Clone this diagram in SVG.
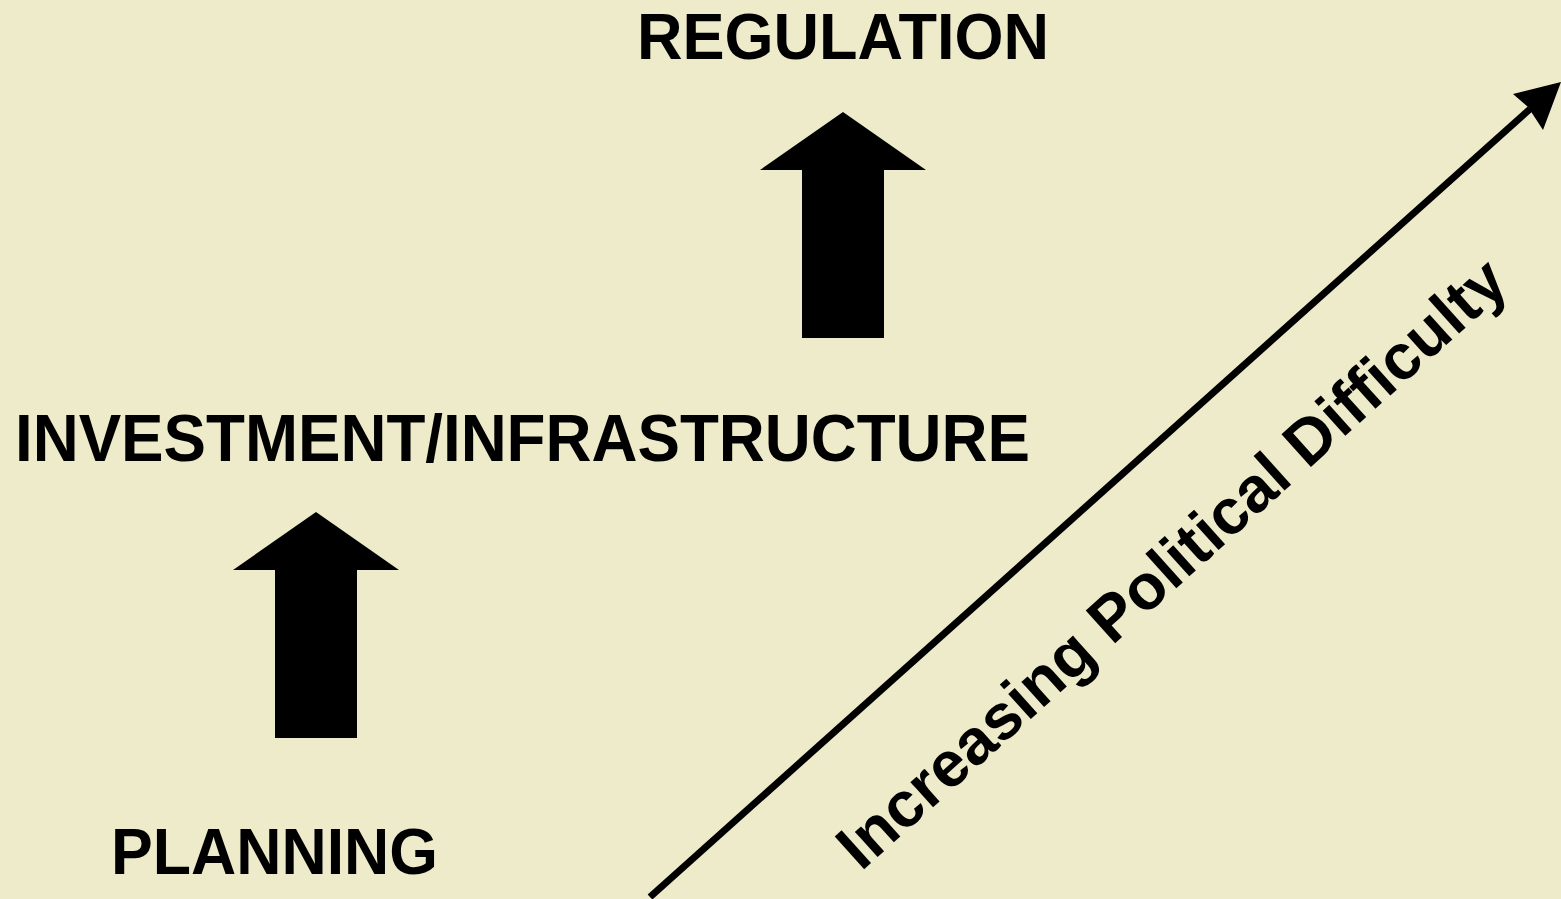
<svg xmlns="http://www.w3.org/2000/svg" width="1561" height="899" viewBox="0 0 1561 899">
<style>
.t{font-family:"Liberation Sans",Arial,sans-serif;font-weight:bold;fill:#000}
.blk{fill:#000}
</style>
<rect width="1561" height="899" fill="#EEEBCB"/>
<g id="regulation"><text class="t" x="843" y="59" font-size="65" text-anchor="middle" textLength="412" lengthAdjust="spacingAndGlyphs">REGULATION</text></g>
<g id="investment"><text class="t" x="15" y="461" font-size="66" textLength="1015" lengthAdjust="spacingAndGlyphs">INVESTMENT/INFRASTRUCTURE</text></g>
<g id="planning"><text class="t" x="111" y="874" font-size="65" textLength="327" lengthAdjust="spacingAndGlyphs">PLANNING</text></g>
<g id="connectors">
<polygon id="arrow-up-1" class="blk" points="316,512 399,570 357,570 357,738 275,738 275,570 233,570"/>
<polygon id="arrow-up-2" class="blk" points="843,112 926,170 884,170 884,338 802,338 802,170 760,170"/>
<line x1="650" y1="897" x2="1530" y2="109" stroke="#000" stroke-width="7"/>
<polygon class="blk" points="1561,82 1513,94 1528,107 1543,130"/>
</g>
<g id="difficulty"><text class="t" x="0" y="0" font-size="64" transform="translate(861,872) rotate(-42)">Increasing Political Difficulty</text></g>
</svg>
